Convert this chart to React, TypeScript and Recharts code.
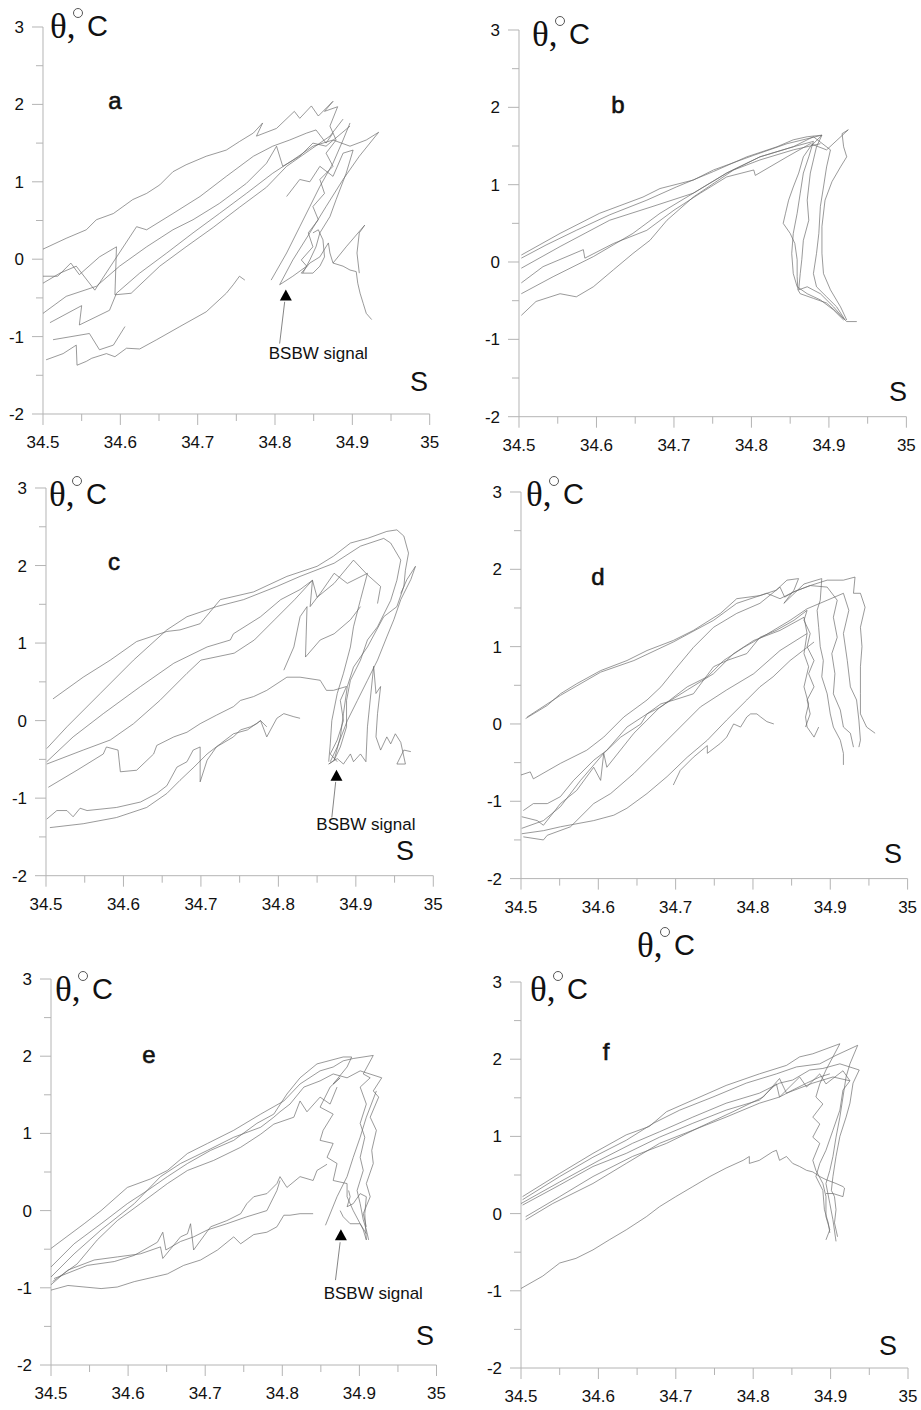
import React from "react";
import { ScatterChart, Scatter, XAxis, YAxis, ReferenceLine, ReferenceDot } from "recharts";

type Pt = [number, number];

const salinityTicks = [34.5, 34.55, 34.6, 34.65, 34.7, 34.75, 34.8, 34.85, 34.9, 34.95, 35];
const tempTicks = [-2, -1.5, -1, -0.5, 0, 0.5, 1, 1.5, 2, 2.5, 3];

// theta-S profiles, one array per station group
const profilesA: Pt[][] = [
    [[34.5, 0.13], [34.53, 0.27], [34.556, 0.38], [34.569, 0.51], [34.591, 0.59], [34.616, 0.77], [34.634, 0.85], [34.651, 0.96], [34.668, 1.13], [34.685, 1.22], [34.711, 1.33], [34.737, 1.41], [34.754, 1.52], [34.772, 1.63], [34.784, 1.76], [34.776, 1.59], [34.802, 1.69], [34.825, 1.91], [34.832, 1.82], [34.847, 1.98], [34.856, 1.85], [34.875, 2.04], [34.864, 1.91], [34.881, 1.97], [34.871, 1.72], [34.879, 1.54], [34.866, 1.37], [34.875, 1.2], [34.858, 1.03], [34.864, 0.85], [34.849, 0.68], [34.856, 0.51], [34.843, 0.34], [34.849, 0.16], [34.834, -0.01], [34.841, -0.09], [34.823, -0.22], [34.806, -0.33]],
    [[34.5, -0.22], [34.519, -0.22], [34.536, -0.05], [34.547, -0.2], [34.573, 0.03], [34.595, 0.16], [34.593, -0.46], [34.614, -0.44], [34.651, -0.09], [34.685, 0.16], [34.72, 0.41], [34.754, 0.67], [34.789, 0.93], [34.815, 1.2], [34.845, 1.41], [34.871, 1.59], [34.888, 1.81]],
    [[34.5, -0.31], [34.522, -0.18], [34.543, -0.09], [34.567, -0.4], [34.621, 0.42], [34.634, 0.38], [34.668, 0.59], [34.703, 0.81], [34.737, 1.07], [34.772, 1.33], [34.797, 1.46], [34.819, 1.54], [34.841, 1.63], [34.853, 1.67], [34.866, 1.5], [34.875, 1.63]],
    [[34.5, -0.7], [34.53, -0.48], [34.569, -0.35], [34.599, -0.09], [34.634, 0.16], [34.668, 0.38], [34.694, 0.51], [34.728, 0.72], [34.763, 0.98], [34.789, 1.24], [34.802, 1.46], [34.81, 1.2], [34.832, 1.33], [34.849, 1.5], [34.866, 1.46], [34.897, 1.72]],
    [[34.509, -0.82], [34.55, -0.6], [34.547, -0.85], [34.586, -0.66], [34.595, -0.44], [34.625, -0.18], [34.66, 0.08], [34.694, 0.34], [34.728, 0.59], [34.763, 0.85], [34.797, 1.11], [34.823, 1.28], [34.849, 1.46], [34.875, 1.54], [34.897, 1.46], [34.918, 1.54], [34.934, 1.64]],
    [[34.513, -1.04], [34.56, -0.96], [34.573, -1.17], [34.591, -1.11], [34.606, -0.87]],
    [[34.504, -1.3], [34.526, -1.22], [34.543, -1.11], [34.544, -1.37], [34.556, -1.32], [34.563, -1.28], [34.582, -1.22], [34.593, -1.26], [34.608, -1.15], [34.625, -1.16], [34.647, -1.04], [34.677, -0.87], [34.711, -0.68], [34.737, -0.44], [34.746, -0.33], [34.754, -0.22], [34.761, -0.27]],
    [[34.795, -0.27], [34.815, 0.08], [34.832, 0.42], [34.845, 0.68], [34.858, 0.94], [34.875, 1.24], [34.888, 1.54], [34.897, 1.76]],
    [[34.806, -0.33], [34.823, -0.01], [34.845, 0.34], [34.866, 0.68], [34.888, 1.03], [34.909, 1.33], [34.934, 1.64]],
    [[34.815, 0.81], [34.832, 1.03], [34.845, 1.0], [34.858, 1.2], [34.875, 1.07], [34.888, 1.37], [34.901, 1.41], [34.892, 1.11], [34.879, 0.77], [34.871, 0.55], [34.858, 0.34], [34.853, 0.16], [34.845, -0.01], [34.836, -0.18]],
    [[34.834, -0.18], [34.845, -0.05], [34.858, 0.03], [34.869, 0.21], [34.871, 0.08], [34.875, -0.05], [34.888, -0.09], [34.897, -0.14], [34.905, -0.16], [34.907, -0.31], [34.91, -0.44], [34.914, -0.57], [34.918, -0.7], [34.925, -0.78]],
    [[34.875, -0.05], [34.892, 0.16], [34.916, 0.44], [34.909, 0.34], [34.906, 0.08], [34.909, -0.18]],
    [[34.849, 0.34], [34.856, 0.38], [34.862, 0.25], [34.864, 0.03], [34.858, -0.09], [34.849, -0.18], [34.834, -0.18]],
];

const profilesB: Pt[][] = [
    [[34.503, 0.09], [34.553, 0.37], [34.604, 0.63], [34.66, 0.84], [34.682, 0.95], [34.725, 1.06], [34.751, 1.19], [34.803, 1.38], [34.846, 1.53], [34.891, 1.64], [34.876, 1.49], [34.867, 1.36], [34.861, 1.15], [34.854, 0.97], [34.848, 0.8], [34.844, 0.63], [34.841, 0.5], [34.85, 0.37], [34.856, 0.24], [34.859, 0.03], [34.859, -0.19], [34.86, -0.36], [34.863, -0.41], [34.88, -0.47], [34.897, -0.53], [34.909, -0.64], [34.923, -0.77], [34.936, -0.77]],
    [[34.503, 0.05], [34.535, 0.22], [34.574, 0.41], [34.617, 0.61], [34.665, 0.8], [34.703, 0.97], [34.751, 1.17], [34.794, 1.36], [34.833, 1.49], [34.854, 1.58], [34.872, 1.62], [34.891, 1.64], [34.884, 1.49], [34.88, 1.32], [34.876, 1.15], [34.872, 0.8], [34.874, 0.54], [34.867, 0.28], [34.865, 0.03], [34.863, -0.15], [34.861, -0.36], [34.872, -0.32], [34.889, -0.41], [34.906, -0.58], [34.919, -0.73]],
    [[34.503, -0.08], [34.553, 0.2], [34.617, 0.54], [34.673, 0.72], [34.725, 0.89], [34.768, 1.15], [34.811, 1.36], [34.854, 1.49], [34.88, 1.62], [34.902, 1.45], [34.897, 1.23], [34.893, 0.97], [34.889, 0.72], [34.887, 0.37], [34.884, 0.11], [34.88, -0.15], [34.884, -0.32], [34.897, -0.45], [34.91, -0.58], [34.921, -0.75]],
    [[34.503, -0.27], [34.531, -0.06], [34.583, 0.16], [34.585, 0.05], [34.622, 0.24], [34.665, 0.41], [34.7, 0.67], [34.734, 0.89], [34.768, 1.1], [34.803, 1.19], [34.805, 1.12], [34.846, 1.36], [34.876, 1.53], [34.897, 1.45], [34.925, 1.71], [34.917, 1.66], [34.919, 1.49], [34.923, 1.36], [34.915, 1.23], [34.904, 1.04], [34.895, 0.8], [34.891, 0.46], [34.891, 0.11], [34.893, -0.15], [34.902, -0.36], [34.915, -0.58], [34.923, -0.75]],
    [[34.503, -0.41], [34.544, -0.19], [34.596, 0.07], [34.647, 0.37], [34.682, 0.63], [34.725, 0.89], [34.768, 1.15], [34.811, 1.36], [34.854, 1.49], [34.88, 1.56], [34.874, 1.36], [34.867, 1.15], [34.863, 0.89], [34.859, 0.63], [34.854, 0.37], [34.852, 0.11], [34.854, -0.15], [34.859, -0.32], [34.872, -0.41], [34.889, -0.49], [34.906, -0.62], [34.919, -0.75]],
    [[34.503, -0.69], [34.522, -0.51], [34.553, -0.41], [34.574, -0.45], [34.596, -0.32], [34.622, -0.1], [34.647, 0.11], [34.669, 0.28], [34.691, 0.54], [34.725, 0.84], [34.777, 1.19], [34.811, 1.32], [34.854, 1.45], [34.889, 1.53]],
];

const profilesC: Pt[][] = [
    [[34.509, 0.28], [34.548, 0.56], [34.583, 0.78], [34.617, 1.02], [34.656, 1.15], [34.673, 1.17], [34.699, 1.25], [34.725, 1.56], [34.768, 1.66], [34.811, 1.86], [34.85, 1.99], [34.871, 2.12], [34.893, 2.29], [34.915, 2.35], [34.94, 2.44], [34.953, 2.46], [34.962, 2.38], [34.968, 2.16], [34.964, 1.94], [34.962, 1.73], [34.953, 1.47], [34.936, 1.34], [34.915, 0.95], [34.897, 0.69], [34.889, 0.44], [34.884, 0.09], [34.88, -0.21], [34.872, -0.51], [34.865, -0.56]],
    [[34.501, -0.36], [34.527, -0.08], [34.57, 0.35], [34.613, 0.78], [34.656, 1.17], [34.682, 1.34], [34.72, 1.47], [34.755, 1.56], [34.798, 1.73], [34.828, 1.86], [34.872, 2.03], [34.906, 2.25], [34.936, 2.35], [34.945, 2.29], [34.958, 2.07], [34.953, 1.81], [34.945, 1.55], [34.928, 1.21], [34.915, 1.04], [34.906, 0.78], [34.893, 0.52], [34.888, 0.26], [34.888, -0.08], [34.88, -0.34], [34.872, -0.51]],
    [[34.501, -0.53], [34.535, -0.21], [34.574, 0.09], [34.622, 0.44], [34.665, 0.74], [34.708, 0.95], [34.738, 1.04], [34.742, 1.12], [34.777, 1.34], [34.803, 1.56], [34.828, 1.69], [34.844, 1.81], [34.841, 1.47], [34.854, 1.64], [34.872, 1.9], [34.889, 1.77], [34.915, 1.9], [34.906, 1.56], [34.897, 1.21], [34.893, 0.95], [34.884, 0.61], [34.876, 0.35], [34.869, 0.0], [34.867, -0.3], [34.865, -0.53]],
    [[34.501, -0.56], [34.548, -0.38], [34.583, -0.25], [34.613, -0.04], [34.647, 0.26], [34.682, 0.61], [34.7, 0.78], [34.743, 0.87], [34.769, 1.04], [34.795, 1.3], [34.821, 1.56], [34.844, 1.81], [34.85, 1.59], [34.872, 1.77], [34.897, 2.07], [34.915, 1.88], [34.932, 1.73], [34.928, 1.51]],
    [[34.503, -0.86], [34.54, -0.64], [34.574, -0.43], [34.578, -0.34], [34.593, -0.38], [34.596, -0.66], [34.617, -0.64], [34.639, -0.43], [34.643, -0.32], [34.665, -0.21], [34.682, -0.15], [34.699, -0.04], [34.72, 0.07], [34.742, 0.18], [34.751, 0.26], [34.768, 0.31], [34.785, 0.39], [34.811, 0.56], [34.828, 0.56], [34.854, 0.52], [34.862, 0.39], [34.871, 0.39], [34.888, 0.44], [34.88, 0.26], [34.884, 0.0], [34.876, -0.25], [34.867, -0.43], [34.876, -0.53]],
    [[34.501, -1.27], [34.514, -1.16], [34.527, -1.16], [34.535, -1.24], [34.544, -1.13], [34.553, -1.16], [34.591, -1.12], [34.622, -1.05], [34.643, -0.94], [34.656, -0.84], [34.669, -0.6], [34.682, -0.53], [34.69, -0.38], [34.699, -0.34], [34.699, -0.79], [34.708, -0.51], [34.72, -0.34], [34.742, -0.21], [34.751, -0.12], [34.764, -0.08], [34.772, -0.04], [34.777, 0.0], [34.785, -0.21], [34.798, 0.03], [34.807, 0.09], [34.82, 0.05], [34.828, 0.03]],
    [[34.505, -1.38], [34.548, -1.33], [34.591, -1.25], [34.63, -1.12], [34.656, -0.94], [34.673, -0.77], [34.691, -0.6], [34.708, -0.43], [34.725, -0.3], [34.742, -0.17], [34.76, -0.12], [34.777, 0.0], [34.785, -0.08]],
    [[34.867, -0.53], [34.876, -0.34], [34.889, 0.0], [34.902, 0.26], [34.915, 0.52], [34.928, 0.78], [34.94, 1.08], [34.949, 1.3], [34.958, 1.56], [34.971, 1.82], [34.977, 1.99], [34.966, 1.82], [34.958, 1.64]],
    [[34.807, 0.65], [34.82, 0.95], [34.828, 1.34], [34.837, 1.47], [34.835, 0.82], [34.854, 1.04], [34.872, 1.12], [34.893, 1.3], [34.906, 1.47]],
    [[34.865, -0.56], [34.876, -0.49], [34.884, -0.56], [34.893, -0.43], [34.897, -0.53], [34.906, -0.43], [34.913, -0.53], [34.915, -0.08], [34.923, 0.7], [34.926, 0.35], [34.932, 0.44], [34.928, 0.09], [34.926, -0.21], [34.932, -0.38], [34.94, -0.21], [34.945, -0.3], [34.951, -0.17], [34.958, -0.28], [34.964, -0.56], [34.953, -0.56], [34.962, -0.38], [34.971, -0.4]],
];

const profilesD: Pt[][] = [
    [[34.506, 0.07], [34.534, 0.24], [34.551, 0.39], [34.572, 0.52], [34.603, 0.69], [34.637, 0.82], [34.663, 0.95], [34.697, 1.08], [34.723, 1.21], [34.758, 1.43], [34.779, 1.62], [34.809, 1.66], [34.83, 1.73], [34.844, 1.86], [34.859, 1.88], [34.853, 1.73], [34.84, 1.56], [34.866, 1.81], [34.879, 1.85], [34.889, 1.88], [34.887, 1.6], [34.883, 1.47], [34.885, 1.25], [34.887, 1.0], [34.891, 0.82], [34.889, 0.61], [34.896, 0.39], [34.9, 0.13], [34.904, -0.04], [34.913, -0.21], [34.917, -0.38], [34.917, -0.53]],
    [[34.508, 0.09], [34.551, 0.37], [34.603, 0.67], [34.646, 0.82], [34.697, 1.06], [34.749, 1.34], [34.779, 1.56], [34.818, 1.69], [34.835, 1.62], [34.853, 1.71], [34.874, 1.79], [34.896, 1.77], [34.909, 1.6], [34.904, 1.38], [34.909, 1.12], [34.902, 0.91], [34.906, 0.65], [34.904, 0.39], [34.913, 0.18], [34.917, -0.04], [34.926, -0.12], [34.93, -0.3]],
    [[34.5, -0.66], [34.512, -0.62], [34.516, -0.71], [34.551, -0.51], [34.585, -0.34], [34.607, -0.17], [34.633, 0.09], [34.663, 0.31], [34.681, 0.48], [34.698, 0.69], [34.723, 0.99], [34.749, 1.25], [34.779, 1.43], [34.809, 1.56], [34.835, 1.77], [34.841, 1.64], [34.853, 1.71], [34.874, 1.79], [34.896, 1.86], [34.917, 1.86], [34.932, 1.9], [34.93, 1.69], [34.939, 1.69], [34.945, 1.51], [34.939, 1.25], [34.941, 1.0], [34.939, 0.74], [34.939, 0.39], [34.939, 0.13], [34.947, -0.04], [34.958, -0.12]],
    [[34.503, -1.12], [34.516, -1.03], [34.534, -1.03], [34.551, -0.94], [34.568, -0.73], [34.594, -0.47], [34.611, -0.34], [34.637, -0.04], [34.663, 0.13], [34.681, 0.26], [34.698, 0.31], [34.723, 0.39], [34.749, 0.74], [34.766, 0.82], [34.792, 0.91], [34.809, 1.12], [34.83, 1.21], [34.853, 1.34], [34.87, 1.47], [34.866, 1.34], [34.874, 1.17], [34.87, 1.0], [34.879, 0.82], [34.872, 0.65], [34.879, 0.48], [34.87, 0.31], [34.874, 0.13], [34.868, -0.04]],
    [[34.501, -1.2], [34.521, -1.25], [34.529, -1.31], [34.551, -1.03], [34.572, -0.86], [34.594, -0.56], [34.603, -0.73], [34.607, -0.38], [34.629, -0.17], [34.655, 0.0], [34.663, 0.13], [34.681, 0.22], [34.715, 0.48], [34.741, 0.61], [34.762, 0.82], [34.788, 0.99], [34.818, 1.16], [34.848, 1.34], [34.87, 1.49], [34.896, 1.6], [34.917, 1.69], [34.924, 1.47], [34.917, 1.17], [34.922, 0.82], [34.926, 0.48], [34.934, 0.31], [34.937, 0.05], [34.939, -0.21], [34.937, -0.3]],
    [[34.501, -1.35], [34.529, -1.25], [34.551, -1.07], [34.577, -0.73], [34.607, -0.38], [34.611, -0.56], [34.646, -0.12], [34.68, 0.22], [34.715, 0.44], [34.749, 0.65], [34.775, 0.91], [34.801, 1.08], [34.835, 1.21], [34.866, 1.38], [34.87, 1.17], [34.866, 0.91], [34.872, 0.74], [34.866, 0.48], [34.872, 0.26], [34.868, 0.09], [34.87, -0.04], [34.879, -0.17], [34.885, -0.04]],
    [[34.501, -1.42], [34.529, -1.38], [34.551, -1.33], [34.594, -1.25], [34.62, -1.18], [34.637, -1.09], [34.663, -0.9], [34.689, -0.68], [34.715, -0.43], [34.741, -0.21], [34.766, 0.05], [34.792, 0.31], [34.809, 0.48], [34.826, 0.61], [34.848, 0.82], [34.87, 0.99], [34.879, 1.06]],
    [[34.503, -1.46], [34.529, -1.5], [34.534, -1.44], [34.564, -1.33], [34.594, -1.03], [34.616, -0.9], [34.646, -0.64], [34.68, -0.3], [34.706, -0.04], [34.732, 0.22], [34.766, 0.44], [34.801, 0.65], [34.835, 0.95], [34.87, 1.17]],
    [[34.697, -0.79], [34.706, -0.6], [34.723, -0.43], [34.741, -0.28], [34.741, -0.38], [34.758, -0.25], [34.766, -0.17], [34.775, 0.0], [34.784, -0.04], [34.792, 0.09], [34.797, 0.13], [34.805, 0.13], [34.81, 0.09], [34.818, 0.03], [34.827, 0.0]],
];

const profilesE: Pt[][] = [
    [[34.5, -0.49], [34.543, -0.17], [34.565, 0.0], [34.599, 0.3], [34.629, 0.41], [34.651, 0.52], [34.677, 0.74], [34.703, 0.87], [34.737, 1.04], [34.772, 1.25], [34.802, 1.42], [34.823, 1.64], [34.849, 1.81], [34.866, 1.86], [34.879, 1.94], [34.892, 1.97], [34.918, 2.01], [34.905, 1.77], [34.914, 1.72], [34.901, 1.6], [34.909, 1.38], [34.901, 1.13], [34.907, 0.95], [34.901, 0.69], [34.905, 0.52], [34.897, 0.26], [34.901, 0.09], [34.905, -0.12], [34.909, -0.25], [34.912, -0.38]],
    [[34.5, -0.73], [34.53, -0.43], [34.565, -0.17], [34.599, 0.09], [34.625, 0.26], [34.651, 0.44], [34.677, 0.61], [34.707, 0.78], [34.737, 0.91], [34.767, 1.13], [34.789, 1.25], [34.806, 1.51], [34.823, 1.72], [34.845, 1.9], [34.879, 1.99], [34.89, 1.99], [34.884, 1.86], [34.866, 1.64], [34.875, 1.72], [34.862, 1.6], [34.849, 1.34], [34.866, 1.25], [34.853, 1.04], [34.849, 0.91], [34.866, 0.87], [34.858, 0.69], [34.871, 0.61], [34.866, 0.39], [34.884, 0.35], [34.884, 0.18], [34.892, 0.0], [34.901, -0.17], [34.909, -0.3]],
    [[34.5, -0.86], [34.53, -0.56], [34.565, -0.25], [34.608, 0.09], [34.642, 0.44], [34.668, 0.61], [34.703, 0.78], [34.737, 0.95], [34.772, 1.08], [34.789, 1.21], [34.797, 1.28], [34.81, 1.38], [34.828, 1.6], [34.849, 1.68], [34.866, 1.77], [34.884, 1.72], [34.901, 1.81], [34.929, 1.72], [34.918, 1.55], [34.925, 1.47], [34.914, 1.21], [34.922, 1.04], [34.916, 0.78], [34.918, 0.61], [34.909, 0.35], [34.914, 0.18], [34.905, -0.04], [34.909, -0.21]],
    [[34.502, -0.92], [34.534, -0.69], [34.56, -0.38], [34.586, -0.13], [34.616, 0.09], [34.651, 0.35], [34.677, 0.52], [34.711, 0.65], [34.746, 0.82], [34.772, 0.99], [34.789, 1.12], [34.815, 1.21], [34.823, 1.42], [34.832, 1.28], [34.849, 1.47], [34.862, 1.38], [34.871, 1.6]],
    [[34.5, -0.96], [34.522, -0.77], [34.556, -0.64], [34.586, -0.6], [34.616, -0.56], [34.642, -0.47], [34.645, -0.62], [34.668, -0.34], [34.677, -0.3], [34.681, -0.17], [34.685, -0.51], [34.707, -0.21], [34.728, -0.13], [34.746, -0.04], [34.754, 0.09], [34.763, 0.18], [34.78, 0.22], [34.793, 0.35], [34.797, 0.44], [34.806, 0.3], [34.823, 0.44], [34.84, 0.39], [34.845, 0.52], [34.858, 0.6]],
    [[34.5, -1.03], [34.522, -0.97], [34.565, -1.01], [34.586, -0.99], [34.608, -0.92], [34.634, -0.86], [34.651, -0.82], [34.672, -0.71], [34.694, -0.64], [34.716, -0.51], [34.737, -0.34], [34.746, -0.43], [34.763, -0.31], [34.78, -0.28], [34.793, -0.21], [34.802, -0.06], [34.81, -0.06], [34.823, -0.04], [34.84, -0.04]],
    [[34.504, -0.88], [34.547, -0.71], [34.582, -0.66], [34.608, -0.58], [34.638, -0.41], [34.645, -0.28], [34.649, -0.51], [34.668, -0.4], [34.685, -0.34], [34.703, -0.25], [34.728, -0.17], [34.754, -0.08], [34.78, 0.0], [34.793, 0.26], [34.797, 0.39]],
    [[34.856, -0.19], [34.871, 0.18], [34.884, 0.44], [34.892, 0.69], [34.901, 0.95], [34.909, 1.21], [34.922, 1.55]],
    [[34.875, 0.0], [34.879, -0.08], [34.888, -0.17], [34.901, -0.17], [34.905, -0.25], [34.909, -0.38], [34.907, -0.04], [34.909, 0.18], [34.901, 0.22], [34.892, 0.09], [34.884, 0.05], [34.888, 0.18], [34.886, 0.26]],
];

const profilesF: Pt[][] = [
    [[34.502, 0.22], [34.55, 0.52], [34.593, 0.78], [34.636, 1.02], [34.666, 1.13], [34.688, 1.32], [34.722, 1.47], [34.765, 1.66], [34.808, 1.81], [34.843, 1.92], [34.86, 2.03], [34.877, 2.07], [34.912, 2.2], [34.903, 2.03], [34.894, 1.86], [34.886, 1.68], [34.881, 1.51], [34.89, 1.42], [34.877, 1.25], [34.886, 1.16], [34.877, 0.99], [34.886, 0.91], [34.877, 0.69], [34.881, 0.56], [34.89, 0.39], [34.894, 0.22], [34.894, -0.04], [34.899, -0.21], [34.894, -0.34]],
    [[34.502, 0.18], [34.55, 0.48], [34.593, 0.73], [34.636, 0.95], [34.671, 1.17], [34.705, 1.34], [34.748, 1.51], [34.791, 1.69], [34.83, 1.81], [34.856, 1.9], [34.886, 1.94], [34.907, 2.05], [34.935, 2.18], [34.925, 1.94], [34.92, 1.77], [34.916, 1.51], [34.912, 1.25], [34.907, 0.99], [34.903, 0.74], [34.899, 0.56], [34.894, 0.39], [34.899, 0.13], [34.903, -0.08], [34.907, -0.36]],
    [[34.5, 0.13], [34.55, 0.41], [34.601, 0.69], [34.644, 0.91], [34.679, 1.06], [34.722, 1.25], [34.765, 1.43], [34.808, 1.56], [34.834, 1.69], [34.851, 1.73], [34.873, 1.86], [34.89, 1.88], [34.912, 1.94], [34.937, 1.86], [34.929, 1.69], [34.925, 1.43], [34.92, 1.25], [34.912, 1.0], [34.907, 0.74], [34.903, 0.48], [34.901, 0.3], [34.905, 0.22], [34.907, 0.05], [34.905, -0.12], [34.909, -0.3]],
    [[34.502, 0.11], [34.55, 0.37], [34.593, 0.61], [34.636, 0.78], [34.679, 0.99], [34.722, 1.17], [34.765, 1.34], [34.808, 1.47], [34.83, 1.68], [34.834, 1.51], [34.86, 1.77], [34.869, 1.64], [34.886, 1.81], [34.894, 1.68], [34.916, 1.85], [34.925, 1.72], [34.916, 1.6], [34.912, 1.34], [34.903, 1.08], [34.894, 0.82], [34.886, 0.65], [34.881, 0.48], [34.89, 0.3], [34.892, 0.05], [34.897, -0.12], [34.899, -0.25]],
    [[34.506, -0.04], [34.55, 0.22], [34.593, 0.48], [34.644, 0.74], [34.688, 0.91], [34.731, 1.12], [34.774, 1.32], [34.813, 1.51], [34.834, 1.75], [34.843, 1.56], [34.877, 1.69], [34.903, 1.77], [34.925, 1.72]],
    [[34.506, -0.08], [34.541, 0.13], [34.593, 0.39], [34.636, 0.65], [34.679, 0.91], [34.722, 1.08], [34.765, 1.25], [34.808, 1.43], [34.834, 1.51], [34.851, 1.6], [34.869, 1.69], [34.886, 1.77], [34.899, 1.81]],
    [[34.5, -0.97], [34.528, -0.81], [34.55, -0.64], [34.571, -0.58], [34.593, -0.47], [34.614, -0.34], [34.636, -0.21], [34.662, -0.04], [34.679, 0.09], [34.7, 0.22], [34.722, 0.35], [34.744, 0.48], [34.765, 0.59], [34.787, 0.69], [34.795, 0.74], [34.795, 0.65], [34.808, 0.69], [34.825, 0.8], [34.83, 0.82], [34.834, 0.69], [34.843, 0.74], [34.851, 0.65], [34.86, 0.61], [34.869, 0.56], [34.877, 0.54], [34.886, 0.48], [34.894, 0.44], [34.907, 0.39], [34.916, 0.35], [34.918, 0.33], [34.916, 0.22], [34.903, 0.26], [34.894, 0.26]],
];

// BSBW marker: triangle tip, pointer line and caption, in (S, theta)
type Marker = { tri: Pt; line: [Pt, Pt]; text: Pt };
const bsbwA: Marker = { tri: [34.814, -0.47], line: [[34.8125, -0.55], [34.806, -1.09]], text: [34.856, -1.215] };
const bsbwC: Marker = { tri: [34.875, -0.71], line: [[34.874, -0.79], [34.869, -1.25]], text: [34.913, -1.33] };
const bsbwE: Marker = { tri: [34.876, -0.32], line: [[34.875, -0.41], [34.869, -0.9]], text: [34.918, -1.07] };

const SANS = "'Liberation Sans', Arial, sans-serif";
const SERIF = "'Liberation Serif', 'Times New Roman', serif";
const AXIS = "#b4b4b4";
const TRACE = "#6a6a6a";

type Box = { l: number; r: number; t: number; b: number };

const XTick = (props: any) => {
    const { x, y, payload } = props;
    const v: number = payload.value;
    const major = Math.abs(v * 10 - Math.round(v * 10)) < 1e-6;
    return <g>
        <line x1={x} x2={x} y1={y} y2={y + (major ? 11 : 7)} stroke={AXIS} />
        {major && <text x={x} y={y + 34} textAnchor="middle" fontSize={17} fontFamily={SANS} fill="#111">
            {v === 35 ? "35" : v.toFixed(1)}
        </text>}
    </g>
}

const YTick = (props: any) => {
    const { x, y, payload } = props;
    const v: number = payload.value;
    const major = Number.isInteger(v);
    return <g>
        <line x1={x - (major ? 11 : 7)} x2={x} y1={y} y2={y} stroke={AXIS} />
        {major && <text x={x - 19} y={y + 6} textAnchor="end" fontSize={17} fontFamily={SANS} fill="#111">{v}</text>}
    </g>
}

const noDot = () => <g />;

function Bsbw(m: Marker) {
    return [
        <ReferenceLine key="l" segment={[{ x: m.line[0][0], y: m.line[0][1] }, { x: m.line[1][0], y: m.line[1][1] }]} stroke="#777" strokeWidth={0.9} />,
        <ReferenceDot key="t" x={m.tri[0]} y={m.tri[1]} r={6}
            shape={(p: any) => <path d={`M${p.cx},${p.cy - 6} L${p.cx + 6},${p.cy + 5} L${p.cx - 6},${p.cy + 5} Z`} fill="#000" />} />,
        <ReferenceDot key="c" x={m.text[0]} y={m.text[1]} r={1}
            shape={(p: any) => <text x={p.cx} y={p.cy + 6} textAnchor="middle" fontSize={17} fontFamily={SANS} fill="#111">BSBW signal</text>} />,
    ];
}

function Panel({ box, profiles, marker }: { box: Box; profiles: Pt[][]; marker?: Marker }) {
    const w = box.r - box.l + 90;
    const h = box.b - box.t + 80;
    return <div style={{ position: "absolute", left: box.l - 50, top: box.t - 40 }}>
        <ScatterChart width={w} height={h} margin={{ top: 40, right: 40, left: 0, bottom: 0 }}>
            <XAxis type="number" dataKey="s" domain={[34.5, 35]} ticks={salinityTicks} interval={0}
                allowDataOverflow height={40} tickSize={0} tickMargin={0} tickLine={false}
                axisLine={{ stroke: AXIS }} tick={<XTick />} />
            <YAxis type="number" dataKey="t" domain={[-2, 3]} ticks={tempTicks} interval={0}
                allowDataOverflow width={50} tickSize={0} tickMargin={0} tickLine={false}
                axisLine={{ stroke: AXIS }} tick={<YTick />} />
            {profiles.map((p, i) => (
                <Scatter key={i} data={p.map(([s, t]) => ({ s, t }))} fill="none"
                    line={{ stroke: TRACE, strokeWidth: 0.8, strokeOpacity: 0.85 }} lineJointType="linear"
                    shape={noDot} isAnimationActive={false} />
            ))}
            {marker && Bsbw(marker)}
        </ScatterChart>
    </div>
}

// axis caption: serif theta, degree ring, sans C
function Theta({ x, b }: { x: number; b: number }) {
    return <g>
        <text x={x} y={b} fontFamily={SERIF} fontSize={35} fill="#111">θ,</text>
        <circle cx={x + 28} cy={b - 25} r={4.5} fill="none" stroke="#444" strokeWidth={0.9} />
        <text x={x + 37} y={b - 2} fontFamily={SANS} fontSize={29} fill="#111">C</text>
    </g>
}

const boxA: Box = { l: 43.3, r: 430, t: 27.3, b: 414.3 };
const boxB: Box = { l: 519.3, r: 906.7, t: 30, b: 416.7 };
const boxC: Box = { l: 46, r: 433.3, t: 488.3, b: 876 };
const boxD: Box = { l: 520.7, r: 907.3, t: 491.7, b: 878.3 };
const boxE: Box = { l: 50.5, r: 436, t: 979, b: 1365 };
const boxF: Box = { l: 521, r: 908, t: 982, b: 1368 };

export default function App() {
    const letter = (ch: string, x: number, y: number) =>
        <text x={x} y={y} textAnchor="middle" fontFamily={SANS} fontSize={24} fill="#111" stroke="#111" strokeWidth={0.6}>{ch}</text>;
    const sLabel = (x: number, y: number) =>
        <text x={x} y={y} textAnchor="middle" fontFamily={SANS} fontSize={27} fill="#111">S</text>;
    return <div style={{ position: "absolute", left: 0, top: 0, width: 921, height: 1410, background: "#fff", overflow: "hidden" }}>
        <Panel box={boxA} profiles={profilesA} marker={bsbwA} />
        <Panel box={boxB} profiles={profilesB} />
        <Panel box={boxC} profiles={profilesC} marker={bsbwC} />
        <Panel box={boxD} profiles={profilesD} />
        <Panel box={boxE} profiles={profilesE} marker={bsbwE} />
        <Panel box={boxF} profiles={profilesF} />
        <svg width={921} height={1410} style={{ position: "absolute", left: 0, top: 0, pointerEvents: "none" }}>
            <Theta x={50} b={38} />
            <Theta x={532} b={46} />
            <Theta x={49} b={506} />
            <Theta x={526} b={506} />
            <Theta x={55} b={1001} />
            <Theta x={530} b={1001} />
            <Theta x={637} b={957} />
            {letter("a", 115, 109)}
            {letter("b", 618, 113)}
            {letter("c", 114, 570)}
            {letter("d", 598, 585)}
            {letter("e", 149, 1063)}
            {letter("f", 606, 1060)}
            {sLabel(419, 391)}
            {sLabel(898, 401)}
            {sLabel(405, 860)}
            {sLabel(893, 863)}
            {sLabel(425, 1345)}
            {sLabel(888, 1355)}
        </svg>
    </div>
}
